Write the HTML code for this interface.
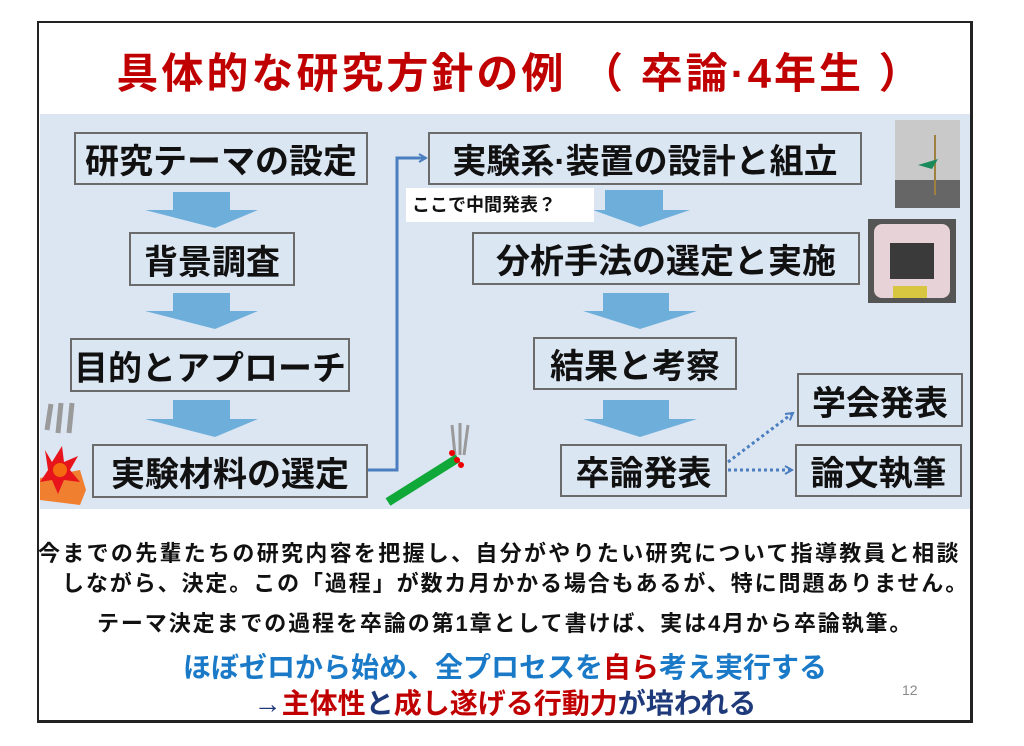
<!DOCTYPE html>
<html><head><meta charset="utf-8"><style>
*{margin:0;padding:0;box-sizing:border-box}
body{width:1024px;height:746px;background:#fff;position:relative;overflow:hidden;font-family:"Liberation Sans","Noto Sans CJK JP",sans-serif;font-weight:bold}
.a{position:absolute}
.box{position:absolute;border:2px solid #6b6b6b;background:#dbe6f3;color:#111;font-size:34px;display:flex;align-items:center;justify-content:center;white-space:nowrap;letter-spacing:0px}
.t{position:absolute;white-space:nowrap;text-align:center;color:#111}
</style></head><body>
<div class="a" style="left:37px;top:21px;width:936px;height:702px;border:2px solid #222;border-right-width:3px;border-bottom-width:3px"></div>
<div class="t" style="left:55px;width:930px;top:40px;font-size:42px;color:#c00000;letter-spacing:3px">具体的な研究方針の例 （ 卒論·4年生 ）</div>
<div class="a" style="left:40px;top:114px;width:930px;height:395px;background:#dce6f3"></div>

<svg class="a" style="left:0;top:0" width="1024" height="746">
<defs><marker id="m" markerWidth="10" markerHeight="10" refX="8" refY="5" orient="auto" markerUnits="userSpaceOnUse"><path d="M1,1 L8,5 L1,9" fill="none" stroke="#4a7ebf" stroke-width="2"/></marker></defs>
<g fill="#6eaedb">
<path d="M173,192 H230 V210 H258 L215,228 L145,210 H173Z"/>
<path d="M173,293 H230 V311 H258 L215,329 L145,311 H173Z"/>
<path d="M173,400 H230 V419 H258 L215,437 L145,419 H173Z"/>
<path d="M605,190 H663 V210 H690 L640,227 L593,210 H605Z"/>
<path d="M603,293 H669 V311 H697 L640,329 L583,311 H603Z"/>
<path d="M603,400 H669 V419 H697 L640,437 L583,419 H603Z"/>
</g>
<path d="M368,470 H397 V158 H426" fill="none" stroke="#4a7ebf" stroke-width="3" marker-end="url(#m)"/>
<path d="M728,462 L793,413" fill="none" stroke="#4a7ebf" stroke-width="3" stroke-dasharray="3,3" marker-end="url(#m)"/>
<path d="M728,470 H792" fill="none" stroke="#4a7ebf" stroke-width="3" stroke-dasharray="3,3" marker-end="url(#m)"/>
<g>
<path d="M47,430 l4,-26 M58,433 l3,-30 M69,433 l3,-30" stroke="#9a9a9a" stroke-width="5"/>
<path d="M40,478 L80,470 L86,490 L80,505 L40,500Z" fill="#f08030"/>
<path d="M45,450 L52,462 L62,446 L64,462 L78,456 L70,470 L80,482 L64,480 L58,494 L52,480 L40,482 L48,470Z" fill="#e8141c"/>
<circle cx="60" cy="470" r="7" fill="#f36a10"/>
</g>
<path d="M388,502 L458,458" stroke="#10a838" stroke-width="9"/>
<path d="M455,455 l-3,-30 M460,455 l0,-32 M464,455 l4,-30" stroke="#9a9a9a" stroke-width="3"/>
<circle cx="452" cy="453" r="3" fill="#e00"/><circle cx="457" cy="460" r="3" fill="#e00"/><circle cx="461" cy="465" r="3" fill="#e00"/>
<rect x="895" y="120" width="65" height="88" fill="#c9c9c9"/>
<rect x="895" y="180" width="65" height="28" fill="#666"/>
<line x1="935" y1="135" x2="935" y2="195" stroke="#a08040" stroke-width="2"/>
<path d="M918,165 l20,-6 l-6,10z" fill="#1a8a5a"/>
<rect x="868" y="219" width="88" height="84" fill="#555"/>
<rect x="874" y="224" width="76" height="74" rx="8" fill="#e7d3d7"/>
<rect x="890" y="243" width="44" height="36" fill="#3a3a3a"/>
<rect x="893" y="286" width="34" height="12" fill="#d9c640"/>
</svg>

<div class="box" style="left:74px;top:132px;width:294px;height:53px">研究テーマの設定</div>
<div class="box" style="left:129px;top:232px;width:166px;height:54px">背景調査</div>
<div class="box" style="left:70px;top:338px;width:280px;height:54px">目的とアプローチ</div>
<div class="box" style="left:92px;top:444px;width:276px;height:54px">実験材料の選定</div>
<div class="box" style="left:428px;top:132px;width:434px;height:53px">実験系·装置の設計と組立</div>
<div class="a" style="left:406px;top:188px;width:188px;height:34px;background:#fff;font-size:18px;line-height:34px;padding-left:6px;color:#111">ここで中間発表？</div>
<div class="box" style="left:472px;top:232px;width:388px;height:53px">分析手法の選定と実施</div>
<div class="box" style="left:533px;top:337px;width:204px;height:53px">結果と考察</div>
<div class="box" style="left:560px;top:444px;width:167px;height:53px">卒論発表</div>
<div class="box" style="left:797px;top:373px;width:166px;height:54px">学会発表</div>
<div class="box" style="left:795px;top:444px;width:167px;height:53px">論文執筆</div>

<div class="t" style="left:38px;top:536px;font-size:22px;letter-spacing:2.3px">今までの先輩たちの研究内容を把握し、自分がやりたい研究について指導教員と相談</div>
<div class="t" style="left:62px;top:566px;font-size:22px;letter-spacing:1.9px">しながら、決定。この「過程」が数カ月かかる場合もあるが、特に問題ありません。</div>
<div class="t" style="left:97px;top:606px;font-size:22px;letter-spacing:1.9px">テーマ決定までの過程を卒論の第1章として書けば、実は4月から卒論執筆。</div>
<div class="t" style="left:40px;width:930px;top:646px;font-size:28px;color:#1a7ac8">ほぼゼロから始め、全プロセスを<span style="color:#c00000">自ら</span>考え実行する</div>
<div class="t" style="left:40px;width:930px;top:682px;font-size:28px;color:#1f3a7a">→<span style="color:#c00000">主体性</span>と<span style="color:#c00000">成し遂げる行動力</span>が培われる</div>
<div class="t" style="left:902px;top:682px;font-size:14px;font-weight:normal;color:#888">12</div>
</body></html>
